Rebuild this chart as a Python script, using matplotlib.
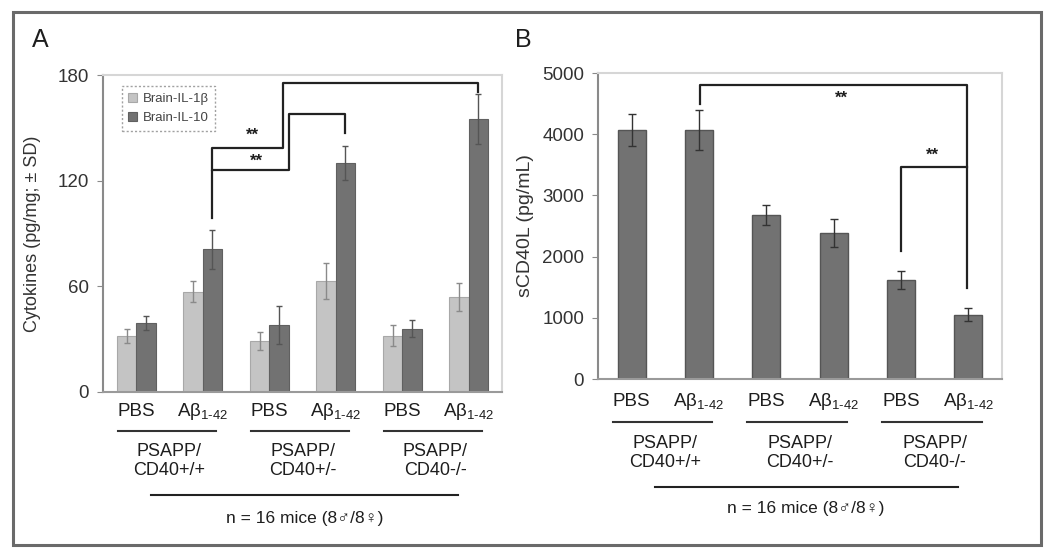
import matplotlib
matplotlib.use("Agg")
import matplotlib.pyplot as plt
import numpy as np
from matplotlib.transforms import blended_transform_factory
from matplotlib.lines import Line2D
from matplotlib.patches import Rectangle

plt.rcParams['font.family'] = ['Liberation Sans', 'DejaVu Sans']
plt.rcParams['mathtext.fontset'] = 'custom'
plt.rcParams['mathtext.rm'] = 'Liberation Sans'

# ---- data ----
treatments = ["PBS", "Aβ$_{\\mathregular{1\u201042}}$"] * 3
genotypes = ["PSAPP/\nCD40+/+", "PSAPP/\nCD40+/-", "PSAPP/\nCD40-/-"]
n_label = "n = 16 mice (8♂/8♀)"

il1b = [32, 57, 29, 63, 32, 54]
il1b_err = [4, 6, 5, 10, 6, 8]
il10 = [39, 81, 38, 130, 36, 155]
il10_err = [4, 11, 11, 9.5, 5, 14]

scd40l = [4070, 4070, 2680, 2390, 1620, 1050]
scd40l_err = [260, 330, 160, 230, 150, 110]

light = "#c4c4c4"
dark = "#727272"
txt = "#1e1e1e"

fig = plt.figure(figsize=(10.5, 5.59), dpi=100)
W, H = 1050, 559

def fy(p):
    return 1 - p / H

# outer frame
fig.patches.append(Rectangle((13 / W, fy(545)), (1041 - 13) / W, (545 - 12) / H,
                             transform=fig.transFigure, fill=False,
                             edgecolor="#6a6a6a", lw=2.2))

axA = fig.add_axes([103 / W, fy(392), 399 / W, (392 - 75) / H])
axB = fig.add_axes([598 / W, fy(379), 404 / W, (379 - 73) / H])

x = np.arange(6)

def style(ax):
    for s in ["top", "right"]:
        ax.spines[s].set_color("#d6d6d6")
        ax.spines[s].set_linewidth(1.5)
    ax.spines["left"].set_color("#8a8a8a")
    ax.spines["bottom"].set_color("#9a9a9a")
    ax.spines["left"].set_linewidth(1.5)
    ax.spines["bottom"].set_linewidth(1.5)
    ax.set_xlim(-0.5, 5.5)
    ax.set_xticks([])
    ax.tick_params(axis="y", length=4, color="#8a8a8a", labelsize=13.5,
                   labelcolor="#333333", pad=6)

# ---- panel A ----
bw = 0.29
axA.bar(x - bw / 2, il1b, bw, color=light, edgecolor="#a8a8a8", lw=0.8,
        yerr=il1b_err, error_kw=dict(ecolor="#8a8a8a", lw=1, capsize=2.5),
        label="Brain-IL-1β")
axA.bar(x + bw / 2, il10, bw, color=dark, edgecolor="#606060", lw=0.8,
        yerr=il10_err, error_kw=dict(ecolor="#555555", lw=1, capsize=2.5),
        label="Brain-IL-10")
axA.set_ylim(0, 180)
axA.set_yticks([0, 60, 120, 180])
style(axA)
axA.set_ylabel("Cytokines (pg/mg; ± SD)", fontsize=13, color="#333333", labelpad=12)

leg = axA.legend(loc="upper left", bbox_to_anchor=(0.03, 0.985), fontsize=9.5,
                 frameon=True, fancybox=False, handlelength=0.7, handleheight=0.7,
                 handletextpad=0.4, borderpad=0.5, labelspacing=0.5)
leg.get_frame().set_edgecolor("#8a8a8a")
leg.get_frame().set_linestyle((0, (1.5, 1.5)))
leg.get_frame().set_linewidth(1)
for t in leg.get_texts():
    t.set_color("#444444")

# significance brackets A
xa = 1 + bw / 2
axA.plot([xa, xa, 2.29, 2.29, 3 + bw / 2, 3 + bw / 2],
         [99, 126, 126, 158, 158, 147], color="#222222", lw=1.6)
axA.plot([xa, xa, 2.2, 2.2, 5 + bw / 2, 5 + bw / 2],
         [126, 138.5, 138.5, 175.5, 175.5, 170.5], color="#222222", lw=1.6)
axA.text(1.74, 146, "**", ha="center", va="center", fontsize=12, weight="bold", color=txt)
axA.text(1.81, 131, "**", ha="center", va="center", fontsize=12, weight="bold", color=txt)

# ---- panel B ----
axB.bar(x, scd40l, 0.42, color=dark, edgecolor="#555555", lw=1,
        yerr=scd40l_err, error_kw=dict(ecolor="#333333", lw=1, capsize=3))
axB.set_ylim(0, 5000)
axB.set_yticks([0, 1000, 2000, 3000, 4000, 5000])
style(axB)
axB.set_ylabel("sCD40L (pg/mL)", fontsize=14, color="#333333", labelpad=6)

axB.plot([1.02, 1.02, 4.98, 4.98], [4500, 4810, 4810, 1490], color="#222222", lw=1.6)
axB.plot([4.0, 4.0, 4.98], [2090, 3460, 3460], color="#222222", lw=1.6)
axB.text(3.12, 4590, "**", ha="center", va="center", fontsize=12, weight="bold", color=txt)
axB.text(4.46, 3650, "**", ha="center", va="center", fontsize=12, weight="bold", color=txt)

# ---- bottom labels ----
def bottom_labels(ax, y_tr, y_gl, y_geno, y_long, y_n, long_span):
    tr = blended_transform_factory(ax.transData, fig.transFigure)
    for i, t in enumerate(treatments):
        ax.text(x[i], fy(y_tr), t, transform=tr, ha="center", va="center",
                fontsize=13.5, color=txt)
    for g in range(3):
        a, b = 2 * g, 2 * g + 1
        ax.add_line(Line2D([a - 0.28, b + 0.2], [fy(y_gl)] * 2, transform=tr,
                           color="#333333", lw=1.5, clip_on=False))
        ax.text((a + b) / 2, fy(y_geno), genotypes[g], transform=tr, ha="center",
                va="center", fontsize=13, color=txt, linespacing=1.15)
    ax.add_line(Line2D(long_span, [fy(y_long)] * 2, transform=tr,
                       color="#222222", lw=1.5, clip_on=False))
    ax.text(np.mean(long_span), fy(y_n), n_label, transform=tr, ha="center",
            va="center", fontsize=12.5, color=txt)

bottom_labels(axA, 412, 431, 461, 495, 518, [0.22, 4.84])
bottom_labels(axB, 401, 422, 453, 487, 509, [0.34, 4.84])

fig.text(40 / W, fy(40), "A", fontsize=18, color=txt, va="center", ha="center")
fig.text(523 / W, fy(40), "B", fontsize=18, color=txt, va="center", ha="center")

fig.savefig("out.png", dpi=100)
